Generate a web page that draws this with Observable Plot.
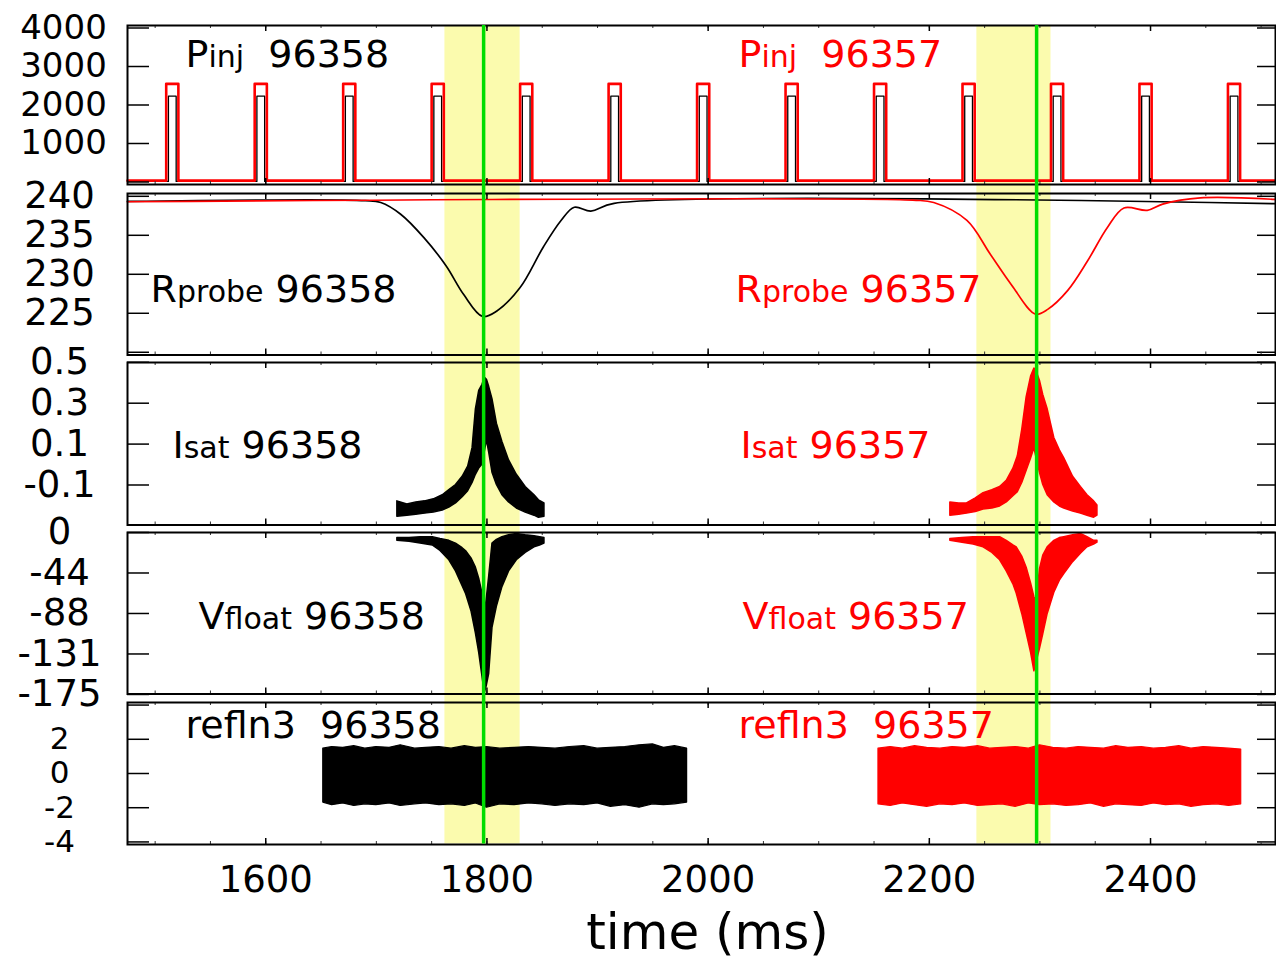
<!DOCTYPE html>
<html><head><meta charset="utf-8">
<script src="https://cdn.jsdelivr.net/npm/d3@7"></script>
<script src="https://cdn.jsdelivr.net/npm/@observablehq/plot@0.6"></script>
<style>
html,body{margin:0;padding:0;background:#fff;}
#chart{position:relative;width:1276px;height:961px;font-family:"DejaVu Sans",sans-serif;}
#chart svg{position:absolute;left:0;overflow:visible;}
#chart text,#chart tspan{white-space:pre;}
</style></head><body><div id="chart"></div>
<script>
// ---------- data ----------
const timeDomain = [1475, 2513];
const xMajorTicks = [1600, 1800, 2000, 2200, 2400];
const xMinorTicks = [1500,1550,1600,1650,1700,1750,1800,1850,1900,1950,2000,2050,2100,2150,2200,2250,2300,2350,2400,2450,2500];

const bandStart = [1762, 2243];
const bandEnd = [1830, 2310];
const markerTimes = [1797, 2297];

// Pinj: pulse start times (ms), widths and levels
const pinjStarts = [1510,1590,1670,1750,1830,1910,1990,2070,2150,2230,2310,2390,2470];
const pinjBlack = {offset: 2, width: 7, base: 15, top: 2230};
const pinjRed = {offset: 0, width: 11, base: 35, top: 2550};
const pinjTicks = [0, 1000, 2000, 3000, 4000];
const pinjTickLabels = ["", "1000", "2000", "3000", "4000"];

// Rprobe
const rprobeBT = [1475, 1690, 1704, 1722, 1743, 1763, 1779, 1796, 1809, 1830, 1851, 1867, 1879, 1894, 1915, 2513];
const rprobeBV = [239.35, 239.45, 239.2, 237.7, 234.7, 231.1, 227.4, 224.6, 225.3, 228.3, 233.5, 236.9, 238.6, 238.1, 239.1, 239.05];
const rprobeRT = [1475, 2185, 2204, 2234, 2255, 2274, 2296, 2307, 2325, 2343, 2361, 2376, 2397, 2411, 2445, 2513];
const rprobeRV = [239.3, 239.5, 239.2, 236.9, 232.6, 228.7, 224.9, 225.5, 227.9, 231.7, 236.0, 238.5, 238.2, 239.0, 239.8, 239.6];
const rprobeTicks = [220, 225, 230, 235, 240];
const rprobeTickLabels = ["", "225", "230", "235", "240"];

// Isat envelopes
const isatBT = [1719,1728,1736,1744,1752,1760,1766,1772,1778,1783,1787,1790,1793,1796,1798,1800,1802,1805,1809,1814,1820,1827,1835,1843,1847,1852];
const isatBLo = [-0.255,-0.250,-0.245,-0.240,-0.235,-0.225,-0.210,-0.190,-0.160,-0.130,-0.090,-0.050,-0.020,0.000,0.060,0.120,0.060,-0.040,-0.100,-0.150,-0.185,-0.215,-0.235,-0.250,-0.260,-0.255];
const isatBHi = [-0.180,-0.195,-0.185,-0.180,-0.170,-0.150,-0.125,-0.100,-0.060,-0.010,0.080,0.270,0.360,0.390,0.425,0.415,0.380,0.320,0.200,0.110,0.020,-0.050,-0.110,-0.150,-0.175,-0.190];
const isatRT = [2219,2227,2234,2242,2249,2257,2264,2270,2276,2280,2284,2288,2292,2295,2297,2300,2303,2307,2313,2318,2322,2330,2337,2343,2349,2352];
const isatRLo = [-0.250,-0.245,-0.240,-0.232,-0.220,-0.215,-0.205,-0.185,-0.155,-0.135,-0.090,-0.030,0.030,0.080,0.030,-0.040,-0.100,-0.150,-0.185,-0.205,-0.215,-0.230,-0.240,-0.250,-0.260,-0.250];
const isatRHi = [-0.185,-0.190,-0.190,-0.165,-0.140,-0.125,-0.110,-0.080,-0.020,0.040,0.170,0.330,0.430,0.470,0.455,0.410,0.340,0.270,0.130,0.070,0.030,-0.060,-0.110,-0.150,-0.180,-0.200];
const isatTicks = [0.5, 0.3, 0.1, -0.1];
const isatTickLabels = ["0.5", "0.3", "0.1", "-0.1"];

// Vfloat envelopes
const vflBT = [1719,1730,1740,1751,1758,1766,1772,1778,1781,1786,1790,1793,1796,1798,1800,1802,1805,1809,1814,1820,1827,1835,1843,1848,1852];
const vflBLo = [-9,-10,-12,-14,-20,-30,-42,-58,-66,-85,-109,-130,-156,-174,-165,-153,-103,-80,-59,-42,-30,-22,-16,-14,-12];
const vflBHi = [-6,-6,-5,-5,-7,-9,-12,-17,-20,-28,-38,-50,-66,-90,-70,-48,-12,-8,-5,-3,-1.5,-3,-4,-5,-6];
const vflRT = [2219,2230,2240,2249,2257,2264,2270,2276,2279,2284,2288,2292,2295,2297,2300,2303,2307,2313,2318,2322,2330,2337,2343,2349,2352];
const vflRLo = [-9,-11,-13,-16,-22,-30,-42,-56,-66,-88,-109,-130,-150,-140,-126,-110,-88,-65,-52,-45,-32,-23,-16,-13,-11];
const vflRHi = [-7,-6,-5,-5,-5,-5,-9,-14,-16,-26,-38,-55,-70,-75,-40,-25,-16,-9,-6,-5,-3,-1.5,-5,-9,-9];
const vflTicks = [0, -43.75, -87.5, -131.25, -175];
const vflTickLabels = ["0", "-44", "-88", "-131", "-175"];

// refln3 envelopes
const refBT = [1652,1660,1670,1680,1690,1700,1712,1722,1735,1745,1757,1768,1780,1790,1800,1812,1825,1838,1850,1862,1875,1888,1900,1912,1925,1938,1950,1960,1970,1981];
const refBHi = [1.45,1.55,1.50,1.60,1.45,1.55,1.50,1.65,1.45,1.50,1.55,1.45,1.60,1.50,1.55,1.45,1.50,1.55,1.50,1.45,1.55,1.60,1.45,1.50,1.55,1.65,1.70,1.50,1.60,1.45];
const refBLo = [-1.70,-1.85,-1.75,-1.90,-1.80,-1.85,-1.75,-1.90,-1.80,-1.75,-1.85,-1.80,-1.90,-1.75,-2.00,-1.80,-1.85,-1.75,-1.80,-1.90,-1.80,-1.85,-1.75,-1.95,-1.85,-2.00,-1.80,-1.85,-1.80,-1.70];
const refRT = [2154,2165,2176,2187,2198,2210,2221,2232,2244,2255,2266,2278,2290,2300,2312,2324,2335,2346,2358,2369,2380,2392,2403,2414,2426,2437,2448,2460,2471,2482];
const refRHi = [1.45,1.55,1.45,1.60,1.50,1.45,1.55,1.50,1.60,1.45,1.50,1.55,1.45,1.65,1.50,1.45,1.55,1.50,1.45,1.60,1.50,1.55,1.45,1.50,1.60,1.45,1.55,1.50,1.45,1.40];
const refRLo = [-1.80,-1.90,-1.75,-1.85,-1.95,-1.80,-1.85,-1.75,-1.90,-1.85,-1.80,-1.95,-1.75,-1.85,-1.80,-1.90,-1.85,-1.75,-1.95,-1.80,-1.85,-1.90,-1.75,-1.85,-1.80,-1.95,-1.85,-1.80,-1.90,-1.80];
const refTicks = [4, 2, 0, -2, -4];
const refTickLabels = ["", "2", "0", "-2", "-4"];

const shotBlack = "96358", shotRed = "96357";

// ---------- layout ----------
const W = 1276, ML = 127, MR = 1;
const FW = W - ML - MR;
const RED = "#ff0000", GREEN = "#00dd00", YELLOW = "#fbfbae";
const FONT = "DejaVu Sans";
const chart = document.getElementById("chart");

function pulseLine(starts, p) {
  const pts = [[timeDomain[0], p.base]];
  for (const s of starts) {
    pts.push([s + p.offset, p.base], [s + p.offset, p.top], [s + p.offset + p.width, p.top], [s + p.offset + p.width, p.base]);
  }
  pts.push([timeDomain[1], p.base]);
  return pts;
}

function richify(svg) {
  d3.select(svg).selectAll("text").each(function () {
    const s = this.textContent;
    if (!s.includes("|")) return;
    const [a, b, c] = s.split("|");
    const sel = d3.select(this);
    sel.text(null);
    sel.append("tspan").text(a);
    sel.append("tspan").attr("font-size", "0.79em").text(b);
    sel.append("tspan").text(c);
  });
}

function label(txt, color, dx, dy) {
  return Plot.text([txt], {text: d => d, frameAnchor: "top-left", dx, dy, lineAnchor: "bottom", textAnchor: "start", fill: color, fontSize: 38});
}

function panel({top, bottom, yDomain, ticks, tickLabels, marks, mb = 15, xAxis = false, tickFont = 37, tickDx = -68}) {
  const mt = 15;
  const fh = bottom - top;
  const h = mt + fh + mb;
  const extra = xAxis ? [
    Plot.axisX({ticks: xMajorTicks, tickSize: 0, tickPadding: 21, fontSize: 37, tickFormat: d => String(d), stroke: "none"}),
    Plot.text(["time (ms)"], {text: d => d, frameAnchor: "bottom", dx: 6, dy: 104.5, lineAnchor: "bottom", fontSize: 50})
  ] : [];
  const labelTicks = ticks.filter((d, i) => tickLabels[i] !== "");
  const labelTexts = tickLabels.filter(s => s !== "");
  const svg = Plot.plot({
    width: W, height: h, marginLeft: ML, marginRight: MR, marginTop: mt, marginBottom: mb,
    x: {domain: timeDomain, axis: xAxis ? undefined : null, label: null},
    y: {domain: yDomain, axis: null, label: null},
    style: {fontFamily: FONT, fontSize: "37px", overflow: "visible", background: "transparent"},
    marks: [
      ...marks,
      Plot.ruleY(ticks, {y: d => d, insetRight: FW - 22, stroke: "black", strokeWidth: 1.5}),
      Plot.ruleY(ticks, {y: d => d, insetLeft: FW - 18, stroke: "black", strokeWidth: 1.5}),
      Plot.ruleX(xMinorTicks, {x: d => d, insetTop: fh - 3, stroke: "#333", strokeWidth: 1}),
      Plot.ruleX(xMinorTicks, {x: d => d, insetBottom: fh - 3, stroke: "#333", strokeWidth: 1}),
      Plot.ruleX(xMajorTicks, {x: d => d, insetTop: fh - 6, stroke: "black", strokeWidth: 1.5}),
      Plot.ruleX(xMajorTicks, {x: d => d, insetBottom: fh - 6, stroke: "black", strokeWidth: 1.5}),
      Plot.text(labelTicks, {y: d => d, text: (d, i) => labelTexts[i], frameAnchor: "left", dx: tickDx, textAnchor: "middle", fontSize: tickFont, fill: "black"}),
      Plot.frame({stroke: "black", strokeWidth: 2}),
      ...extra
    ]
  });
  svg.style.top = (top - mt) + "px";
  richify(svg);
  return svg;
}

// background: highlight bands
const bg = Plot.plot({
  width: W, height: 961, marginLeft: ML, marginRight: MR, marginTop: 25, marginBottom: 961 - 843.5,
  x: {domain: timeDomain, axis: null, label: null},
  style: {overflow: "visible", background: "transparent"},
  marks: [Plot.barX(bandStart, {x1: bandStart, x2: bandEnd, fill: YELLOW})]
});
bg.style.top = "0px";
chart.appendChild(bg);

const area = (t, lo, hi, c, sw = 1.5) => Plot.areaY(t, {x: t, y1: lo, y2: hi, fill: c, stroke: c, strokeWidth: sw, strokeLinejoin: "round"});

// Panel 1: Pinj
const pb = pulseLine(pinjStarts, pinjBlack), pr = pulseLine(pinjStarts, pinjRed);
chart.appendChild(panel({
  top: 25, bottom: 184, yDomain: [-65, 4065], ticks: pinjTicks, tickLabels: pinjTickLabels, tickFont: 34, tickDx: -64,
  marks: [
    Plot.line(pb, {x: d => d[0], y: d => d[1], stroke: "black", strokeWidth: 1.3}),
    Plot.line(pr, {x: d => d[0], y: d => d[1], stroke: RED, strokeWidth: 2.6}),
    label("P|inj|  " + shotBlack, "black", 58, 41),
    label("P|inj|  " + shotRed, RED, 611, 41)
  ]
}));

// Panel 2: Rprobe
chart.appendChild(panel({
  top: 192.5, bottom: 354, yDomain: [219.65, 240.36], ticks: rprobeTicks, tickLabels: rprobeTickLabels,
  marks: [
    Plot.line(rprobeBT, {x: rprobeBT, y: rprobeBV, stroke: "black", strokeWidth: 1.7, curve: "catmull-rom"}),
    Plot.line(rprobeRT, {x: rprobeRT, y: rprobeRV, stroke: RED, strokeWidth: 1.7, curve: "catmull-rom"}),
    label("R|probe| " + shotBlack, "black", 23, 108.5),
    label("R|probe| " + shotRed, RED, 608, 108.5)
  ]
}));

// Panel 3: Isat
chart.appendChild(panel({
  top: 361.5, bottom: 524, yDomain: [-0.2956, 0.499], ticks: isatTicks, tickLabels: isatTickLabels,
  marks: [
    area(isatBT, isatBLo, isatBHi, "black"),
    area(isatRT, isatRLo, isatRHi, RED),
    label("I|sat| " + shotBlack, "black", 45, 95),
    label("I|sat| " + shotRed, RED, 613, 95)
  ]
}));

// Panel 4: Vfloat
chart.appendChild(panel({
  top: 531.5, bottom: 693, yDomain: [-174.5, 0], ticks: vflTicks, tickLabels: vflTickLabels,
  marks: [
    area(vflBT, vflBLo, vflBHi, "black"),
    area(vflRT, vflRLo, vflRHi, RED),
    label("V|float| " + shotBlack, "black", 71, 96),
    label("V|float| " + shotRed, RED, 615, 96)
  ]
}));

// Panel 5: refln3 with x axis
chart.appendChild(panel({
  top: 701.5, bottom: 843.5, yDomain: [-4.15, 4.15], ticks: refTicks, tickLabels: refTickLabels, mb: 961 - 843.5, xAxis: true, tickFont: 31,
  marks: [
    area(refBT, refBLo, refBHi, "black", 1.2),
    area(refRT, refRLo, refRHi, RED, 1.2),
    label("refln3  " + shotBlack, "black", 58, 35),
    label("refln3  " + shotRed, RED, 611, 35)
  ]
}));

// top layer: marker lines
const fg = Plot.plot({
  width: W, height: 961, marginLeft: ML, marginRight: MR, marginTop: 25, marginBottom: 961 - 843.5,
  x: {domain: timeDomain, axis: null, label: null},
  style: {overflow: "visible", background: "transparent"},
  marks: [Plot.ruleX(markerTimes, {x: d => d, stroke: GREEN, strokeWidth: 3.5})]
});
fg.style.top = "0px";
chart.appendChild(fg);
</script></body></html>
